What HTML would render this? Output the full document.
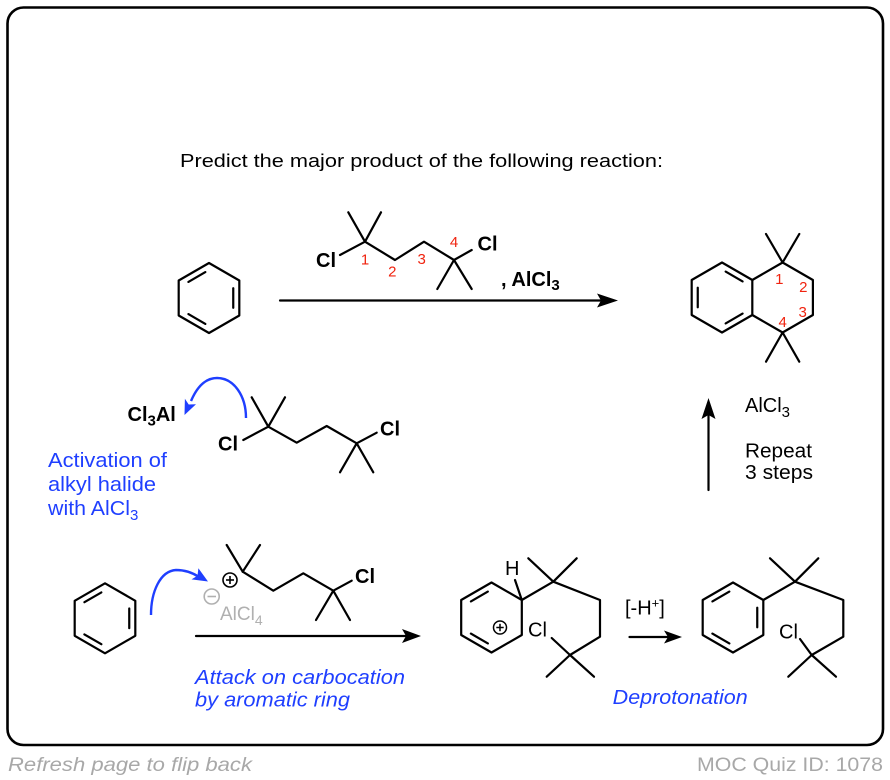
<!DOCTYPE html>
<html><head><meta charset="utf-8"><style>
html,body{margin:0;padding:0;background:#fff;}
svg{display:block;}
text{font-family:"Liberation Sans",Arial,sans-serif;}
.b{font-weight:bold;font-size:20px;fill:#000;}
.r{font-size:15px;fill:#f0230f;}
.n{font-size:20px;fill:#000;}
.bl{font-size:20.5px;fill:#1f3fff;}
.bi{font-size:20.5px;fill:#1f3fff;font-style:italic;}
</style></head><body>
<svg width="890" height="780" viewBox="0 0 890 780" xmlns="http://www.w3.org/2000/svg">
<rect width="890" height="780" fill="#fff"/>
<rect x="7.5" y="7.5" width="875.5" height="737.5" rx="16" ry="16" fill="none" stroke="#000" stroke-width="2.6"/>

<text x="180" y="167" font-size="18.5" fill="#000" textLength="483" lengthAdjust="spacingAndGlyphs">Predict the major product of the following reaction:</text>

<g fill="none" stroke="#000" stroke-width="2.2" stroke-linecap="round" stroke-linejoin="round">
<!-- Benzene 1 -->
<g transform="translate(209,298)">
<polygon points="0,-35 30.31,-17.5 30.31,17.5 0,35 -30.31,17.5 -30.31,-17.5"/>
<line x1="-3.64" y1="-25.9" x2="-20.6" y2="-16.1"/>
<line x1="24.25" y1="-9.8" x2="24.25" y2="9.8"/>
<line x1="-3.64" y1="25.9" x2="-20.6" y2="16.1"/>
</g>
<!-- top reagent -->
<polyline points="340,255 365,241.7"/>
<polyline points="348.3,212.3 365,241.7 381,212.3"/>
<polyline points="365,241.7 395,260 424,241.7 454,260"/>
<polyline points="437.3,289 454,260 471.7,289"/>
<polyline points="454,260 471.7,250"/>
<line x1="280" y1="300.5" x2="602" y2="300.5"/>

<!-- Tetralin product -->
<g transform="translate(722,297.5)">
<polygon points="0,-35 30.31,-17.5 30.31,17.5 0,35 -30.31,17.5 -30.31,-17.5"/>
<line x1="-24.25" y1="-9.8" x2="-24.25" y2="9.8"/>
<line x1="3.64" y1="-25.9" x2="20.6" y2="-16.1"/>
<line x1="20.6" y1="16.1" x2="3.64" y2="25.9"/>
</g>
<polyline points="752.3,280 782.6,262.5 812.9,280 812.9,315 782.6,332.5 752.3,315"/>
<polyline points="766,234 782.6,262.5 799.3,234"/>
<polyline points="766,361.7 782.6,332.5 799.3,361.7"/>

<line x1="708.5" y1="490" x2="708.5" y2="414"/>

<!-- Activation molecule -->
<polyline points="243.3,440 268.3,426.7"/>
<polyline points="251.7,397.3 268.3,426.7 285,397.3"/>
<polyline points="268.3,426.7 296.7,442.7 326.7,426 356.7,443.3"/>
<polyline points="340,472.3 356.7,443.3 373.3,472.3"/>
<polyline points="356.7,443.3 376.7,432.7"/>

<!-- Benzene 2 -->
<g transform="translate(105,618.3)">
<polygon points="0,-35 30.31,-17.5 30.31,17.5 0,35 -30.31,17.5 -30.31,-17.5"/>
<line x1="-3.64" y1="-25.9" x2="-20.6" y2="-16.1"/>
<line x1="24.25" y1="-9.8" x2="24.25" y2="9.8"/>
<line x1="-3.64" y1="25.9" x2="-20.6" y2="16.1"/>
</g>
<!-- carbocation -->
<polyline points="226.7,545 242.7,571.7 260,545"/>
<polyline points="242.7,571.7 273.3,590.7 303.3,573.3 333.3,590.7"/>
<polyline points="316,620 333.3,590.7 350,620"/>
<polyline points="333.3,590.7 351.7,580.7"/>
<line x1="196" y1="636" x2="408" y2="636"/>

<!-- arenium -->
<g transform="translate(491.5,617.5)">
<polygon points="0,-35 30.31,-17.5 30.31,17.5 0,35 -30.31,17.5 -30.31,-17.5"/>
<line x1="-3.64" y1="-25.9" x2="-20.6" y2="-16.1"/>
<line x1="-20.6" y1="16.1" x2="-3.64" y2="25.9"/>
</g>
<line x1="521.8" y1="600" x2="515" y2="580"/>
<polyline points="521.8,600 553.3,581.7 600,600 600,636.7 570,655"/>
<polyline points="528.3,558.3 553.3,581.7 576.7,558.3"/>
<polyline points="546.7,676.7 570,655 594,676.7"/>
<line x1="570" y1="655" x2="551.7" y2="638"/>
<line x1="629.5" y1="637" x2="668" y2="637"/>

<!-- final product -->
<g transform="translate(733,617.5)">
<polygon points="0,-35 30.31,-17.5 30.31,17.5 0,35 -30.31,17.5 -30.31,-17.5"/>
<line x1="-3.64" y1="-25.9" x2="-20.6" y2="-16.1"/>
<line x1="24.25" y1="-9.8" x2="24.25" y2="9.8"/>
<line x1="-3.64" y1="25.9" x2="-20.6" y2="16.1"/>
</g>
<polyline points="763.3,600 795,581.7 843.3,600 843.3,636.7 811.7,655"/>
<polyline points="770,558.3 795,581.7 818.3,558.3"/>
<polyline points="788.3,676.7 811.7,655 836,676.7"/>
<line x1="811.7" y1="655" x2="800" y2="639"/>
</g>

<!-- arrowheads -->
<polygon points="618,300.5 597,293.5 601,300.5 597,307.5" fill="#000"/>
<polygon points="708.5,398 701.5,419 708.5,415 715.5,419" fill="#000"/>
<polygon points="421,636 402,629 406,636 402,643" fill="#000"/>
<polygon points="682,637 664,630.5 668,637 664,643.5" fill="#000"/>

<!-- blue curved arrows -->
<path d="M246,418 C246,396 234,378 217,378 C205,378 197,387 191,401" fill="none" stroke="#1f3fff" stroke-width="2.4"/>
<polygon points="184.5,415 184.9,398.8 188.7,404.5 196,404.2" fill="#1f3fff"/>
<path d="M151,615 C151,592 160,571 176,570 C186,570 193,573 199,577" fill="none" stroke="#1f3fff" stroke-width="2.4"/>
<polygon points="208,581.5 198.4,568.2 197.5,575.8 191.5,579.4" fill="#1f3fff"/>

<!-- charges -->
<circle cx="230" cy="580" r="7" fill="none" stroke="#000" stroke-width="1.6"/>
<line x1="226" y1="580" x2="234" y2="580" stroke="#000" stroke-width="1.6"/>
<line x1="230" y1="576" x2="230" y2="584" stroke="#000" stroke-width="1.6"/>
<circle cx="211.7" cy="596.5" r="7.5" fill="none" stroke="#b0b0b0" stroke-width="1.6"/>
<line x1="207.5" y1="596.5" x2="216" y2="596.5" stroke="#b0b0b0" stroke-width="1.6"/>
<circle cx="500" cy="627.5" r="6.5" fill="none" stroke="#000" stroke-width="1.5"/>
<line x1="496.3" y1="627.5" x2="503.7" y2="627.5" stroke="#000" stroke-width="1.5"/>
<line x1="500" y1="623.8" x2="500" y2="631.2" stroke="#000" stroke-width="1.5"/>

<!-- labels top -->
<text class="b" x="316" y="267">Cl</text>
<text class="b" x="477.5" y="250.5">Cl</text>
<text class="b" x="501" y="286">, AlCl<tspan font-size="15" dy="4">3</tspan></text>
<text class="r" x="365" y="264.5" text-anchor="middle">1</text>
<text class="r" x="392.3" y="276.5" text-anchor="middle">2</text>
<text class="r" x="421.7" y="264" text-anchor="middle">3</text>
<text class="r" x="454" y="247" text-anchor="middle">4</text>

<text class="r" x="779.3" y="284" text-anchor="middle">1</text>
<text class="r" x="803.3" y="292" text-anchor="middle">2</text>
<text class="r" x="802.7" y="317" text-anchor="middle">3</text>
<text class="r" x="782.7" y="327" text-anchor="middle">4</text>

<!-- up arrow labels -->
<text class="n" x="745" y="412">AlCl<tspan font-size="15" dy="5">3</tspan></text>
<text class="n" x="745" y="457.5" textLength="67" lengthAdjust="spacingAndGlyphs">Repeat</text>
<text class="n" x="745" y="479" textLength="68" lengthAdjust="spacingAndGlyphs">3 steps</text>

<!-- activation -->
<text class="b" x="127.5" y="421">Cl<tspan font-size="15" dy="4.5">3</tspan><tspan dy="-4.5">Al</tspan></text>
<text class="b" x="218" y="450.5">Cl</text>
<text class="b" x="380" y="435.5">Cl</text>
<text class="bl" x="48" y="467" textLength="119" lengthAdjust="spacingAndGlyphs">Activation of</text>
<text class="bl" x="48" y="491" textLength="108" lengthAdjust="spacingAndGlyphs">alkyl halide</text>
<text class="bl" x="48" y="515"><tspan textLength="82" lengthAdjust="spacingAndGlyphs">with AlCl</tspan><tspan font-size="15" dy="5">3</tspan></text>

<!-- carbocation labels -->
<text class="b" x="355" y="583">Cl</text>
<text x="220" y="620" font-size="19" fill="#b0b0b0">AlCl<tspan font-size="14" dy="5">4</tspan></text>
<text class="bi" x="195" y="684" textLength="210" lengthAdjust="spacingAndGlyphs">Attack on carbocation</text>
<text class="bi" x="195" y="706.5" textLength="155" lengthAdjust="spacingAndGlyphs">by aromatic ring</text>

<!-- arenium labels -->
<text class="n" x="505" y="575">H</text>
<text class="n" x="528" y="636.5">Cl</text>
<text class="n" x="625" y="614.5">[-H<tspan font-size="13" dy="-7">+</tspan><tspan dy="7">]</tspan></text>
<text class="n" x="779" y="638.5">Cl</text>
<text class="bi" x="612.7" y="704" textLength="135" lengthAdjust="spacingAndGlyphs">Deprotonation</text>

<!-- footer -->
<text x="8" y="771" font-size="19" font-style="italic" fill="#a8a8a8" textLength="244" lengthAdjust="spacingAndGlyphs">Refresh page to flip back</text>
<text x="697" y="771" font-size="19" fill="#a8a8a8" textLength="186" lengthAdjust="spacingAndGlyphs">MOC Quiz ID: 1078</text>
</svg>
</body></html>
